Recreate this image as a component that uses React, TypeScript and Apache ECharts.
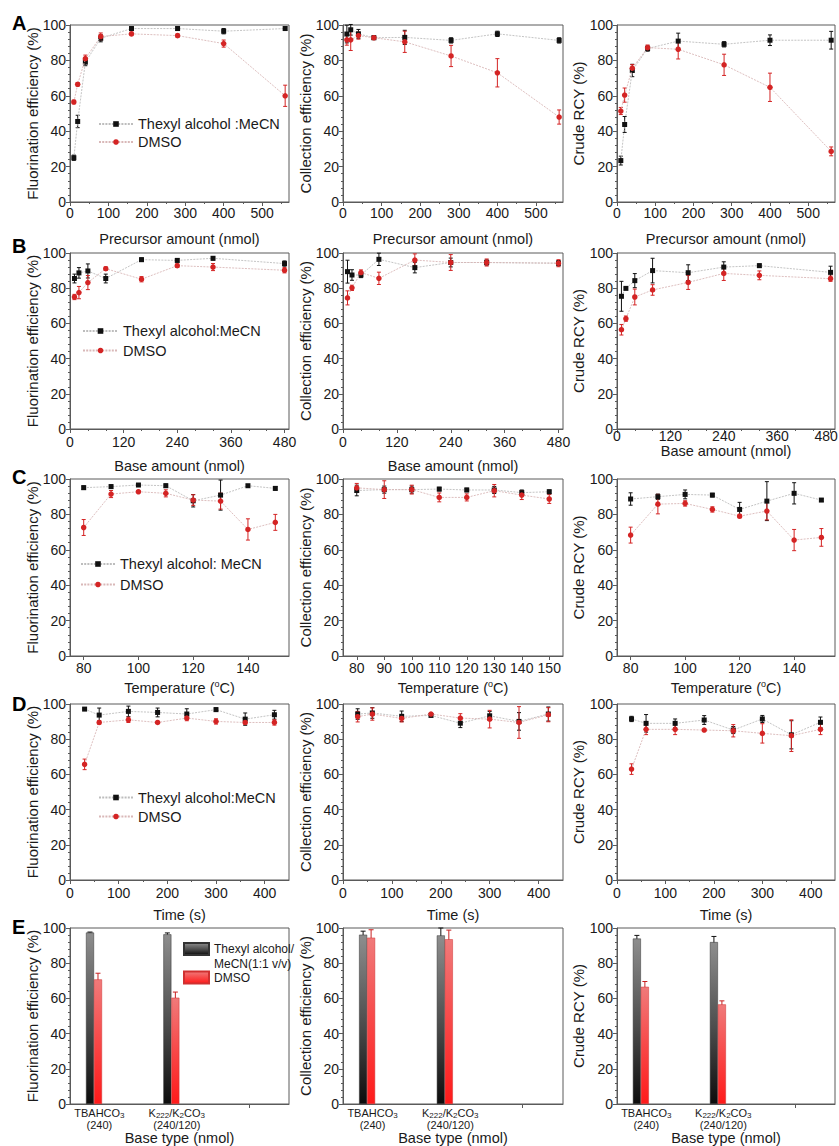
import React, { useEffect, useRef } from 'react';
import * as echarts from 'echarts';

// ---------- DATA ----------
// Row A: precursor amount (nmol)
const precursorX = [10, 20, 40, 80, 160, 280, 400, 560];
const aFluorThexyl = [25, 45.5, 79, 92.5, 98, 98, 96.5, 98];
const aFluorThexylErr = [1.5, 3.5, 2, 2, 1, 1, 1.5, 1];
const aFluorDmso = [56.5, 66.5, 81, 93.5, 95, 94, 89.5, 60];
const aFluorDmsoErr = [1, 1, 2, 2, 1, 1, 2, 6];
const aCollThexyl = [94.9, 97.3, 95, 92.8, 93, 91.3, 95, 91.3];
const aCollThexylErr = [5, 3, 2.5, 1, 4, 1.5, 1.5, 1.5];
const aCollDmso = [91.6, 91.6, 94, 92.8, 90.5, 82.5, 73, 48];
const aCollDmsoErr = [3, 6, 2, 1, 6, 6, 8, 4];
const aRcyThexyl = [23.4, 43.8, 74.3, 86.7, 90.9, 89.1, 91.4, 91.4];
const aRcyThexylErr = [2.5, 4.5, 3.5, 1.5, 4.5, 1.5, 3, 5];
const aRcyDmso = [51.4, 60.4, 75.6, 87.2, 86.3, 77.5, 64.8, 28.6];
const aRcyDmsoErr = [2, 4, 2, 1.5, 5.5, 6, 8, 2.5];

// Row B: base amount (nmol)
const baseX = [10, 20, 40, 80, 160, 240, 320, 480];
const bFluorThexyl = [85.5, 88.7, 89.8, 85.5, 96.2, 95.8, 97, 94];
const bFluorThexylErr = [2.5, 3, 4, 2.5, 1, 1, 1, 1.5];
const bFluorDmso = [75, 77.5, 83.2, 91.1, 85.1, 92.8, 92, 90.2];
const bFluorDmsoErr = [1.5, 3.5, 4, 1, 1.5, 1, 2, 1.5];
const bCollThexyl = [89.4, 87.5, 87.5, 96.4, 91.7, 94.6, 94.6, 94.2];
const bCollThexylErr = [6.5, 3, 1.5, 3.5, 3, 2.5, 1.5, 1.5];
const bCollDmso = [74.5, 80.2, 88.9, 85.6, 96, 94.6, 94.6, 94.2];
const bCollDmsoErr = [4, 1.5, 1.5, 3.5, 3.5, 4.5, 2, 2];
const bRcyThexyl = [75.4, 79.9, 84.3, 90, 88.8, 92, 92.8, 89];
const bRcyThexylErr = [8.5, 0.5, 4, 7, 4.5, 3, 1, 3.5];
const bRcyDmso = [56.4, 62.7, 75, 79, 83.3, 88.4, 87.3, 85.4];
const bRcyDmsoErr = [3, 1.5, 4.5, 3, 4, 4, 2.5, 1.5];

// Row C: temperature (oC)
const tempX = [80, 90, 100, 110, 120, 130, 140, 150];
const cFluorThexyl = [95.1, 95.7, 96.6, 96.2, 87.7, 90.9, 96.2, 94.7];
const cFluorThexylErr = [1, 1, 0.5, 1, 3.5, 8.5, 0.5, 1];
const cFluorDmso = [72.6, 91.5, 92.8, 91.9, 88.1, 87.5, 71.5, 75.5];
const cFluorDmsoErr = [4.5, 2, 0.5, 2, 3, 4.5, 6, 4.5];
const cCollThexyl = [93.5, 94, 94, 94.3, 93.8, 93.8, 92.3, 92.8];
const cCollThexylErr = [3, 2, 2, 1, 1, 2, 1.5, 1];
const cCollDmso = [95, 94, 94, 89.6, 89.6, 93.4, 90.9, 88.7];
const cCollDmsoErr = [2.5, 5, 2.5, 2.5, 2, 3.5, 2.5, 2.5];
const cRcyThexyl = [88.7, 90, 91.3, 90.9, 82.8, 87.5, 91.9, 88.1];
const cRcyThexylErr = [3.5, 1.5, 2.5, 1, 4, 11, 6, 0.8];
const cRcyDmso = [68.3, 85.8, 86.2, 82.8, 79, 81.9, 65.5, 67];
const cRcyDmsoErr = [4.5, 5.5, 1.5, 1.5, 1, 5, 6, 5];

// Row D: time (s)
const timeX = [30, 60, 120, 180, 240, 300, 360, 420];
const dFluorThexyl = [97.1, 93.7, 95.8, 95.2, 94.3, 96.8, 91.4, 93.9];
const dFluorThexylErr = [0.5, 4, 3, 2.5, 3, 1, 3.5, 2.5];
const dFluorDmso = [65.7, 89.5, 91, 89.5, 92, 90.1, 89.5, 89.5];
const dFluorDmsoErr = [3, 1, 1.5, 0.5, 1.5, 1.5, 1, 1.5];
const dCollThexyl = [94.3, 94.9, 93, 93.5, 89.1, 93.3, 90.1, 94.3];
const dCollThexylErr = [3, 3, 3, 0.5, 2.5, 2.5, 5, 4];
const dCollDmso = [92.8, 94.3, 91.8, 94.3, 92, 91.4, 89.5, 93.9];
const dCollDmsoErr = [3, 3.5, 2, 0.5, 2.5, 5, 9, 4];
const dRcyThexyl = [91.5, 89, 89, 90.9, 85.2, 91.5, 82.5, 89.6];
const dRcyThexylErr = [1.5, 5, 2.5, 2.5, 2, 2, 8, 3];
const dRcyDmso = [63, 85.6, 85.6, 85.2, 84.8, 83.3, 82, 85.6];
const dRcyDmsoErr = [3, 3, 3, 0.5, 3.5, 5.5, 9, 3];

// Row E: base type (bars)
const baseTypePos = [1, 2];
const baseTypeRich = ['{n|TBAHCO}{s|3}', '{n|K}{s|222}{n|/K}{s|2}{n|CO}{s|3}'];
const baseTypeAmount = ['(240)', '(240/120)'];
const eFluorThexyl = [97.4, 96.4];
const eFluorThexylErr = [0.3, 0.8];
const eFluorDmso = [70.8, 60.4];
const eFluorDmsoErr = [3.5, 3.2];
const eCollThexyl = [96.2, 95.8];
const eCollThexylErr = [2, 4.2];
const eCollDmso = [94.5, 93.6];
const eCollDmsoErr = [4.5, 5.2];
const eRcyThexyl = [94, 92];
const eRcyThexylErr = [1.8, 3.2];
const eRcyDmso = [66.6, 56.6];
const eRcyDmsoErr = [3, 2];

const yNames = ['Fluorination efficiency (%)', 'Collection efficiency (%)', 'Crude RCY (%)'];
const yTicks = [0, 20, 40, 60, 80, 100];
const precursorTicks = [0, 100, 200, 300, 400, 500];
const baseTicks = [0, 120, 240, 360, 480];
const tempTicksWide = [80, 100, 120, 140];
const tempTicksNarrow = [80, 90, 100, 110, 120, 130, 140, 150];
const timeTicks = [0, 100, 200, 300, 400];
const thexylNames = ['Thexyl alcohol :MeCN', 'Thexyl alcohol:MeCN', 'Thexyl alcohol: MeCN', 'Thexyl alcohol:MeCN'];
const dmsoName = 'DMSO';
const barThexylName = 'Thexyl alcohol/MeCN(1:1 v/v)';
const barDmsoName = 'DMSO (bars)';
const panelLetters = ['A', 'B', 'C', 'D', 'E'];

// ---------- STYLE / LAYOUT ----------
const FONT = 'Liberation Sans, Arial, sans-serif';
const AXIS_COLOR = '#5a5a5a';
const TEXT_COLOR = '#1a1a1a';
const BLACK = '#111111';
const RED = '#d42424';
const LINE_BLACK = '#bdbdbd';
const LINE_RED = '#d9b8b8';

const colLeft = [70, 343, 617];
const colWidth = [219, 220, 218];
const rowTop = [25, 253, 479, 704, 928];
const rowHeight = [177, 176, 177, 176, 176];
const letterY = [23, 246, 477, 704, 927];

type RowData = {
  xs: number[];
  panels: { t: number[]; te: number[]; d: number[]; de: number[] }[];
};

const lineRows: RowData[] = [
  {
    xs: precursorX,
    panels: [
      { t: aFluorThexyl, te: aFluorThexylErr, d: aFluorDmso, de: aFluorDmsoErr },
      { t: aCollThexyl, te: aCollThexylErr, d: aCollDmso, de: aCollDmsoErr },
      { t: aRcyThexyl, te: aRcyThexylErr, d: aRcyDmso, de: aRcyDmsoErr },
    ],
  },
  {
    xs: baseX,
    panels: [
      { t: bFluorThexyl, te: bFluorThexylErr, d: bFluorDmso, de: bFluorDmsoErr },
      { t: bCollThexyl, te: bCollThexylErr, d: bCollDmso, de: bCollDmsoErr },
      { t: bRcyThexyl, te: bRcyThexylErr, d: bRcyDmso, de: bRcyDmsoErr },
    ],
  },
  {
    xs: tempX,
    panels: [
      { t: cFluorThexyl, te: cFluorThexylErr, d: cFluorDmso, de: cFluorDmsoErr },
      { t: cCollThexyl, te: cCollThexylErr, d: cCollDmso, de: cCollDmsoErr },
      { t: cRcyThexyl, te: cRcyThexylErr, d: cRcyDmso, de: cRcyDmsoErr },
    ],
  },
  {
    xs: timeX,
    panels: [
      { t: dFluorThexyl, te: dFluorThexylErr, d: dFluorDmso, de: dFluorDmsoErr },
      { t: dCollThexyl, te: dCollThexylErr, d: dCollDmso, de: dCollDmsoErr },
      { t: dRcyThexyl, te: dRcyThexylErr, d: dRcyDmso, de: dRcyDmsoErr },
    ],
  },
];

const barPanels = [
  { t: eFluorThexyl, te: eFluorThexylErr, d: eFluorDmso, de: eFluorDmsoErr },
  { t: eCollThexyl, te: eCollThexylErr, d: eCollDmso, de: eCollDmsoErr },
  { t: eRcyThexyl, te: eRcyThexylErr, d: eRcyDmso, de: eRcyDmsoErr },
];

function errorSeries(axisIndex: number, xs: number[], ys: number[], es: number[], color: string, offsetPx: number, capHalf: number) {
  return {
    type: 'custom',
    xAxisIndex: axisIndex,
    yAxisIndex: axisIndex,
    silent: true,
    z: 2,
    data: xs.map((x, k) => [x, ys[k], es[k]]),
    renderItem: (params: any, api: any) => {
      const x = api.value(0);
      const y = api.value(1);
      const e = api.value(2);
      const top = api.coord([x, y + e]);
      const bot = api.coord([x, y - e]);
      const cx = top[0] + offsetPx;
      const style = { stroke: color, lineWidth: 1 };
      return {
        type: 'group',
        children: [
          { type: 'line', shape: { x1: cx, y1: top[1], x2: cx, y2: bot[1] }, style },
          { type: 'line', shape: { x1: cx - capHalf, y1: top[1], x2: cx + capHalf, y2: top[1] }, style },
          { type: 'line', shape: { x1: cx - capHalf, y1: bot[1], x2: cx + capHalf, y2: bot[1] }, style },
        ],
      };
    },
  };
}

function xAxisConfig(row: number, col: number, idx: number) {
  const base: any = {
    type: 'value',
    gridIndex: idx,
    nameLocation: 'middle',
    nameMoveOverlap: false,
    nameTextStyle: { fontSize: 14.5, color: TEXT_COLOR, fontFamily: FONT, lineHeight: 17 },
    axisLine: { show: true, onZero: false, lineStyle: { color: AXIS_COLOR, width: 1 } },
    axisTick: { show: true, inside: false, length: 4, lineStyle: { color: AXIS_COLOR } },
    minorTick: { show: false },
    splitLine: { show: false },
    axisLabel: { fontSize: 14, color: TEXT_COLOR, fontFamily: FONT, margin: 5 },
  };
  const tickSet = (vals: number[]) => {
    base.axisLabel.customValues = vals;
    base.axisTick.customValues = vals;
  };
  if (row === 0) {
    base.min = 0; base.max = 570; base.interval = 100;
    tickSet(precursorTicks);
    base.minorTick = { show: true, splitNumber: 2, length: 2, lineStyle: { color: AXIS_COLOR } };
    base.name = 'Precursor amount (nmol)';
    base.nameGap = 28;
    base.axisLabel.margin = 4;
  } else if (row === 1) {
    base.min = 0; base.max = 490; base.interval = 120;
    tickSet(baseTicks);
    base.minorTick = { show: true, splitNumber: 3, length: 2, lineStyle: { color: AXIS_COLOR } };
    base.name = 'Base amount (nmol)';
    base.nameGap = col === 2 ? 13 : 28;
    base.axisLabel.margin = col === 2 ? 0 : 6;
    if (col === 2) {
      // keep the last label inside the page edge
      base.axisLabel.formatter = (v: number) => (v === baseTicks[baseTicks.length - 1] ? '{r|' + v + '}' : String(v));
      base.axisLabel.rich = {
        r: { fontSize: 14, color: TEXT_COLOR, fontFamily: FONT, padding: [0, 9, 0, 0] },
      };
    }
  } else if (row === 2) {
    base.min = 75; base.max = 155;
    tickSet(col === 1 ? tempTicksNarrow : tempTicksWide);
    base.name = 'Temperature ({sup|o}C)';
    base.nameTextStyle.rich = {
      sup: { fontSize: 9, lineHeight: 9, verticalAlign: 'top', color: TEXT_COLOR, fontFamily: FONT },
    };
    base.nameGap = 23;
    base.axisLabel.margin = 5;
  } else if (row === 3) {
    base.min = 0; base.max = 450; base.interval = 100;
    tickSet(timeTicks);
    base.minorTick = { show: true, splitNumber: 2, length: 2, lineStyle: { color: AXIS_COLOR } };
    base.name = 'Time (s)';
    base.nameGap = 26;
    base.axisLabel.margin = 6;
  } else {
    base.min = 0.69; base.max = 3.52;
    base.axisLabel = {
      customValues: baseTypePos.map((p) => p + 0.07),
      formatter: (v: number) => {
        const k = v < 1.5 ? 0 : 1;
        return baseTypeRich[k] + '\n{n|' + baseTypeAmount[k] + '}';
      },
      margin: 3,
      color: TEXT_COLOR,
      fontFamily: FONT,
      rich: {
        n: { fontSize: 11, lineHeight: 12, color: TEXT_COLOR, fontFamily: FONT },
        s: { fontSize: 8, lineHeight: 7, verticalAlign: 'bottom', color: TEXT_COLOR, fontFamily: FONT },
      },
    };
    base.axisTick.customValues = [3];
    base.name = 'Base type (nmol)';
    base.nameGap = 26;
    base.nameTextStyle.lineHeight = 15;
  }
  return base;
}

function yAxisConfig(col: number, idx: number) {
  return {
    type: 'value',
    gridIndex: idx,
    min: 0,
    max: 100,
    interval: 20,
    name: yNames[col],
    nameLocation: 'middle',
    nameMoveOverlap: false,
    nameGap: col === 2 ? 31 : 30,
    nameTextStyle: { fontSize: 15, color: TEXT_COLOR, fontFamily: FONT },
    axisLine: { show: true, onZero: false, lineStyle: { color: AXIS_COLOR, width: 1 } },
    axisTick: { show: true, inside: false, length: 4, customValues: yTicks, lineStyle: { color: AXIS_COLOR } },
    minorTick: { show: true, splitNumber: 5, length: 2, lineStyle: { color: AXIS_COLOR } },
    splitLine: { show: false },
    axisLabel: { fontSize: 14, color: TEXT_COLOR, fontFamily: FONT, margin: 4, customValues: yTicks },
  };
}

function buildOption() {
  const grid: any[] = [];
  const xAxis: any[] = [];
  const yAxis: any[] = [];
  const series: any[] = [];

  for (let r = 0; r < 5; r++) {
    for (let c = 0; c < 3; c++) {
      const idx = r * 3 + c;
      grid.push({
        left: colLeft[c],
        top: rowTop[r],
        width: colWidth[c],
        height: rowHeight[r],
        show: true,
        borderColor: AXIS_COLOR,
        borderWidth: 1,
        backgroundColor: 'transparent',
        containLabel: false,
        outerBoundsMode: 'none',
      });
      xAxis.push(xAxisConfig(r, c, idx));
      yAxis.push(yAxisConfig(c, idx));
    }
  }

  // line rows A-D
  lineRows.forEach((row, r) => {
    row.panels.forEach((p, c) => {
      const idx = r * 3 + c;
      series.push(errorSeries(idx, row.xs, p.t, p.te, BLACK, 0, 2));
      series.push(errorSeries(idx, row.xs, p.d, p.de, RED, 0, 2));
      series.push({
        type: 'line',
        name: thexylNames[r],
        xAxisIndex: idx,
        yAxisIndex: idx,
        silent: true,
        z: 3,
        data: row.xs.map((x, k) => [x, p.t[k]]),
        symbol: 'rect',
        symbolSize: 5,
        showSymbol: true,
        itemStyle: { color: BLACK },
        lineStyle: { color: LINE_BLACK, width: 0.9, type: [2, 1.2] },
      });
      series.push({
        type: 'line',
        name: dmsoName,
        xAxisIndex: idx,
        yAxisIndex: idx,
        silent: true,
        z: 4,
        data: row.xs.map((x, k) => [x, p.d[k]]),
        symbol: 'circle',
        symbolSize: 5.5,
        showSymbol: true,
        itemStyle: { color: RED },
        lineStyle: { color: LINE_RED, width: 0.9, type: [2, 1.2] },
      });
    });
  });

  // bar row E
  const grayGrad = new echarts.graphic.LinearGradient(0, 0, 0, 1, [
    { offset: 0, color: '#8e8e8e' },
    { offset: 0.55, color: '#4a4a4a' },
    { offset: 1, color: '#0c0c0c' },
  ]);
  const redGrad = new echarts.graphic.LinearGradient(0, 0, 0, 1, [
    { offset: 0, color: '#f07a7a' },
    { offset: 0.5, color: '#f84848' },
    { offset: 1, color: '#ff1a1a' },
  ]);
  barPanels.forEach((p, c) => {
    const idx = 12 + c;
    series.push({
      type: 'bar',
      name: barThexylName,
      xAxisIndex: idx,
      yAxisIndex: idx,
      silent: true,
      barWidth: 8,
      barGap: '0%',
      data: baseTypePos.map((x, k) => [x, p.t[k]]),
      itemStyle: { color: grayGrad, borderColor: '#333', borderWidth: 0.5 },
    });
    series.push({
      type: 'bar',
      name: barDmsoName,
      xAxisIndex: idx,
      yAxisIndex: idx,
      silent: true,
      barWidth: 8,
      barGap: '0%',
      data: baseTypePos.map((x, k) => [x, p.d[k]]),
      itemStyle: { color: redGrad, borderColor: '#d03030', borderWidth: 0.5 },
    });
    series.push(errorSeries(idx, baseTypePos, p.t, p.te, BLACK, -4, 2.5));
    series.push(errorSeries(idx, baseTypePos, p.d, p.de, '#c82020', 4, 2.5));
  });

  const legendText = { fontSize: 14.5, color: TEXT_COLOR, fontFamily: FONT };
  const lineLegend = (name: string, left: number, top: number, gap: number, width: number) => ({
    orient: 'vertical',
    left,
    top,
    padding: 0,
    itemGap: gap,
    itemWidth: width,
    itemHeight: 7,
    selectedMode: false,
    textStyle: legendText,
    data: [name, dmsoName],
  });

  const legend = [
    lineLegend(thexylNames[0], 98, 116.5, 3, 34),
    lineLegend(thexylNames[1], 82, 323.5, 4.5, 35),
    lineLegend(thexylNames[2], 80, 556.5, 5.5, 34),
    lineLegend(thexylNames[3], 98, 790, 4, 34),
    {
      orient: 'vertical',
      left: 183,
      top: 926.5,
      padding: 0,
      itemWidth: 25,
      itemHeight: 12,
      icon: 'rect',
      selectedMode: false,
      formatter: () => ' \nThexyl alcohol/\nMeCN(1:1 v/v)',
      textStyle: { fontSize: 12, lineHeight: 15, color: TEXT_COLOR, fontFamily: FONT },
      data: [barThexylName],
    },
    {
      orient: 'vertical',
      left: 183,
      top: 970,
      padding: 0,
      itemWidth: 25,
      itemHeight: 12,
      icon: 'rect',
      selectedMode: false,
      formatter: () => 'DMSO',
      textStyle: { fontSize: 12, lineHeight: 15, color: TEXT_COLOR, fontFamily: FONT },
      data: [barDmsoName],
    },
  ];

  const graphic = panelLetters.map((L, r) => ({
    type: 'text',
    x: 12,
    y: letterY[r],
    silent: true,
    style: {
      text: L,
      fill: '#000',
      font: 'bold 20px Liberation Sans, Arial, sans-serif',
      verticalAlign: 'middle',
      align: 'left',
    },
  }));

  return {
    animation: false,
    backgroundColor: '#ffffff',
    textStyle: { fontFamily: FONT },
    grid,
    xAxis,
    yAxis,
    legend,
    graphic,
    series,
  };
}

export default function App() {
  const ref = useRef<HTMLDivElement>(null);
  useEffect(() => {
    if (!ref.current) return;
    const chart = echarts.init(ref.current, null, { renderer: 'svg' });
    chart.setOption(buildOption() as any);
    return () => {
      chart.dispose();
    };
  }, []);
  return (
    <div
      ref={ref}
      style={{ position: 'absolute', left: 0, top: 0, width: 839, height: 1146, background: '#fff' }}
    />
  );
}
